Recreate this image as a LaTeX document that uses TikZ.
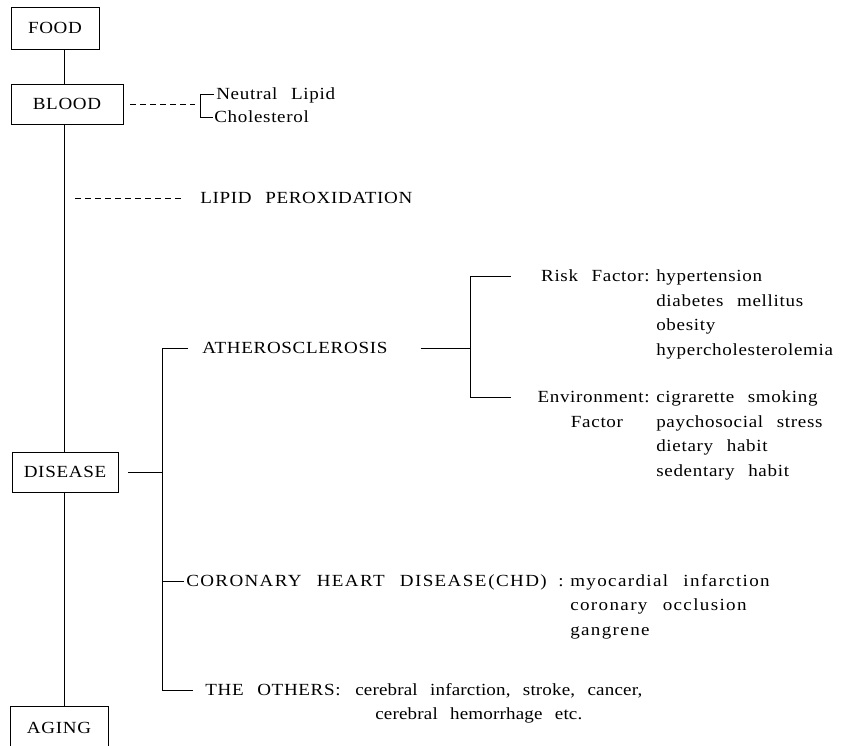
\documentclass[tikz,border=0pt]{standalone}
\usepackage{fontspec}
\setmainfont{Liberation Serif}[FakeStretch=1.12,LetterSpace=4,WordSpace=2.5]
\begin{document}
\begin{tikzpicture}[x=1pt,y=-1pt,line width=0.6pt,
  every node/.style={font=\fontsize{17}{24.5}\selectfont,inner sep=0pt,text height=13pt,text depth=3pt},
  box/.style={draw,line width=0.9pt,anchor=center},
  lbl/.style={anchor=west},
  lble/.style={anchor=east},
  wide/.style={font=\fontsize{17}{24.5}\selectfont\addfontfeature{LetterSpace=8}},
  narrow/.style={font=\fontsize{17}{24.5}\selectfont\addfontfeature{LetterSpace=1}},
  dash line/.style={dash pattern=on 6pt off 4pt}]
\useasboundingbox (0,0) rectangle (849,745);
\clip (0,0) rectangle (849,745);
% boxes
\node[box,minimum width=88pt,minimum height=42pt] (food) at (55,28) {FOOD};
\node[box,minimum width=112pt,minimum height=40pt] (blood) at (67,104) {BLOOD};
\node[box,minimum width=106pt,minimum height=40pt] (disease) at (65,472) {DISEASE};
\node[box,minimum width=98pt,minimum height=44pt] (aging) at (59,728) {AGING};
% spine
\coordinate (spine) at (64,0);
\draw (food.south -| spine) -- (blood.north -| spine);
\draw (blood.south -| spine) -- (disease.north -| spine);
\draw (disease.south -| spine) -- (aging.north -| spine);
% blood lipids
\coordinate (bx) at (200,0);
\node[lbl] (nl) at (216,94) {Neutral Lipid};
\node[lbl] (chol) at (214,117) {Cholesterol};
\draw ([xshift=-2pt]nl.west) -- (nl.west -| bx) -- (chol.west -| bx) -- ([xshift=-1pt]chol.west);
\draw[dash line] ([xshift=7pt]blood.east) -- ([xshift=-5pt]blood.east -| bx);
% lipid peroxidation
\node[lbl] (lipid) at (200,198) {LIPID PEROXIDATION};
\draw[dash line] ([xshift=11pt]lipid.west -| spine) -- ([xshift=-17pt]lipid.west);
% disease branches
\coordinate (lb) at (162,0);
\node[lbl] (ath) at (202,348) {ATHEROSCLEROSIS};
\node[lbl,wide] (chd) at (186,581) {CORONARY HEART DISEASE\hspace{2pt}(CHD)};
\node[lbl] (chdc) at (558,581) {:};
\node[lbl] (oth) at (205,690) {THE OTHERS:};
\draw ([xshift=-14pt]ath.west) -- (ath.west -| lb) -- (oth.west -| lb) -- ([xshift=-12pt]oth.west);
\draw (chd.west -| lb) -- ([xshift=-2pt]chd.west);
\draw ([xshift=10pt]disease.east) -- (disease.east -| lb);
% CHD list
\node[lbl,wide] (chd1) at (570,581) {myocardial infarction};
\node[lbl,wide] (chd2) at (570,605) {coronary occlusion};
\node[lbl,wide] (chd3) at (570,630) {gangrene};
% others list
\node[lbl,narrow] (oth1) at (355,690) {cerebral infarction, stroke, cancer,};
\node[lbl,narrow] (oth2) at (375,714) {cerebral hemorrhage etc.};
% atherosclerosis factors
\coordinate (rb) at (470,0);
\node[lble] (risk) at (650,276) {Risk Factor:};
\node[lble] (env) at (650,397) {Environment:};
\node (factor) at (597,422) {Factor};
\draw ([xshift=33pt]ath.east) -- (ath.east -| rb);
\draw ([xshift=-30pt]risk.west) -- (risk.west -| rb) -- (env.west -| rb) -- ([xshift=-26pt]env.west);
\node[lbl] (r1) at (656,276) {hypertension};
\node[lbl] (r2) at (656,301) {diabetes mellitus};
\node[lbl] (r3) at (656,325) {obesity};
\node[lbl] (r4) at (656,350) {hypercholesterolemia};
\node[lbl] (e1) at (656,397) {cigrarette smoking};
\node[lbl] (e2) at (656,422) {paychosocial stress};
\node[lbl] (e3) at (656,446) {dietary habit};
\node[lbl] (e4) at (656,471) {sedentary habit};
\end{tikzpicture}
\end{document}
